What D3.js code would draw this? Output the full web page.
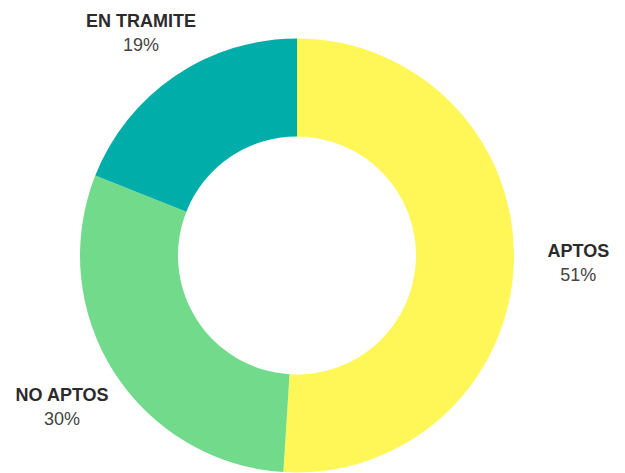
<!DOCTYPE html>
<html>
<head>
<meta charset="utf-8">
<script src="https://cdn.jsdelivr.net/npm/d3@7"></script>
<style>
  html, body { margin: 0; padding: 0; background: #fff; }
  svg { display: block; }
</style>
</head>
<body>
<svg id="chart" width="625" height="473"></svg>
<script>
const categories = ["APTOS", "NO APTOS", "EN TRAMITE"];
const values = [51, 30, 19];
const colors = ["#FFF757", "#72DA8B", "#00ADA9"];

const W = 625, H = 473;
const cx = 297, cy = 255.5;
const outerR = 217, innerR = 119, labelR = 280;

const svg = d3.select("#chart");
const g = svg.append("g").attr("transform", `translate(${cx},${cy})`);

const data = categories.map((c, i) => ({ name: c, value: values[i], color: colors[i] }));
const pie = d3.pie().value(d => d.value).sort(null);
const arc = d3.arc().innerRadius(innerR).outerRadius(outerR);
const arcs = pie(data);

g.selectAll("path.slice").data(arcs).enter().append("path")
  .attr("class", "slice")
  .attr("d", arc)
  .attr("fill", d => d.data.color);

const total = d3.sum(values);
const lbl = g.selectAll("g.lbl").data(arcs).enter().append("g").attr("class", "lbl")
  .attr("transform", d => {
    const a = (d.startAngle + d.endAngle) / 2;
    const c = Math.cos(a);
    const x = labelR * Math.sin(a) + 1.5;
    const y = -labelR * c - 2 + 12 * Math.max(0, c) + 5 * Math.max(0, -c);
    return `translate(${x},${y})`;
  });

lbl.append("text")
  .attr("text-anchor", "middle")
  .attr("y", -5)
  .attr("font-family", "Liberation Sans, Arial, sans-serif")
  .attr("font-size", 18)
  .attr("font-weight", "bold")
  .attr("fill", "#2b2b2b")
  .text(d => d.data.name);

lbl.append("text")
  .attr("text-anchor", "middle")
  .attr("y", 19)
  .attr("font-family", "Liberation Sans, Arial, sans-serif")
  .attr("font-size", 18)
  .attr("fill", "#444")
  .text(d => Math.round(d.data.value / total * 100) + "%");
</script>
</body>
</html>
